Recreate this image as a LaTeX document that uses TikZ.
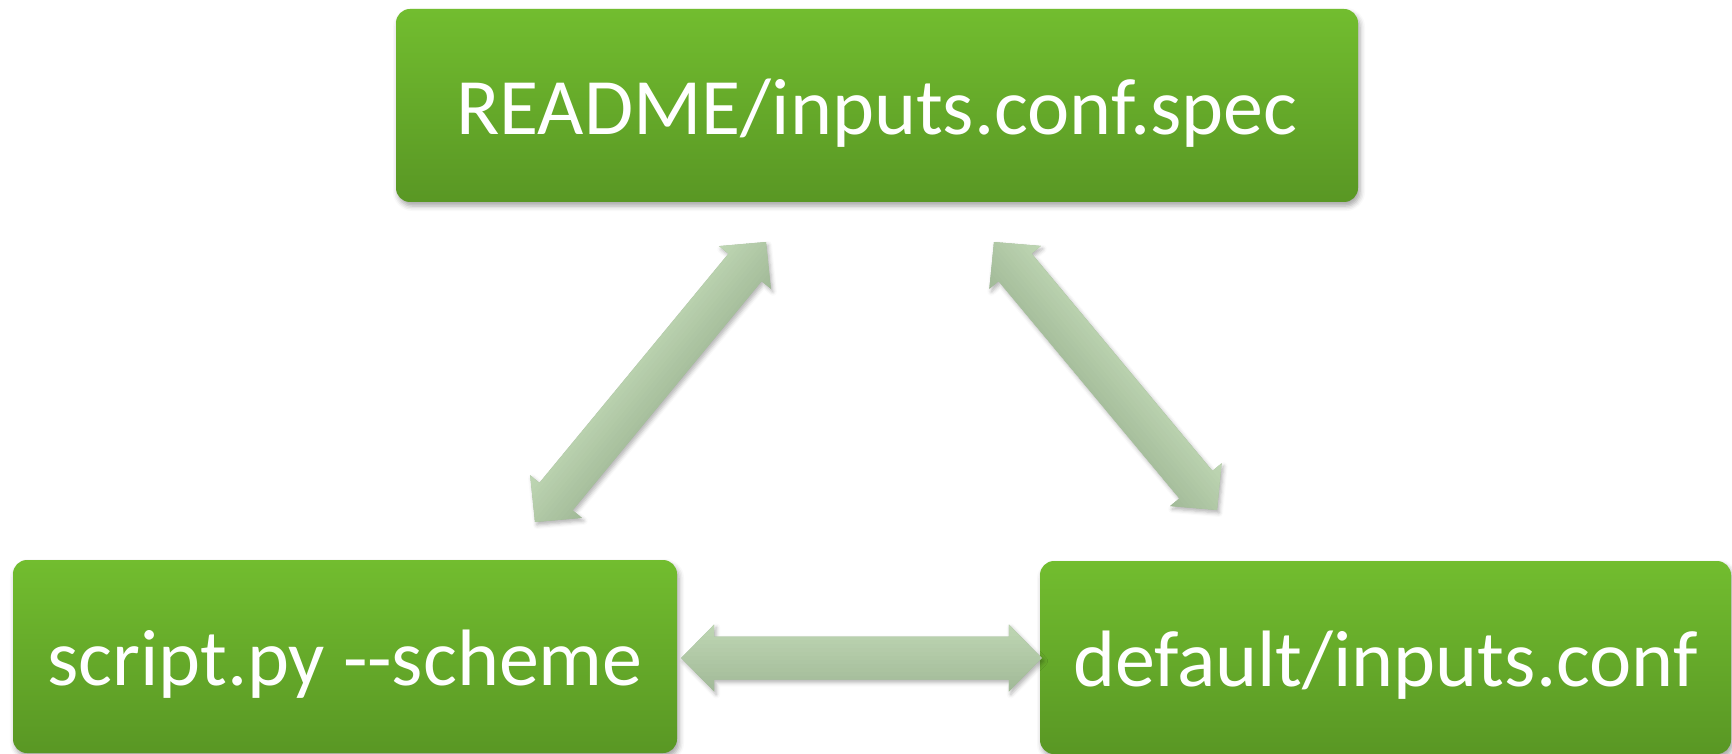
\documentclass[tikz,border=0pt]{standalone}
\usepackage{fontspec}
\newfontfamily\boxfont{Carlito}[Ligatures=TeXOff]
\usetikzlibrary{calc,shadows.blur}

\definecolor{boxtop}{RGB}{114,189,47}
\definecolor{boxbot}{RGB}{89,151,36}
\definecolor{arrlight}{RGB}{192,216,181}
\definecolor{arrdark}{RGB}{160,184,150}

\tikzset{
  filebox/.style={rectangle, rounded corners=14pt, top color=boxtop, bottom color=boxbot,
    text=white, font=\boxfont\fontsize{80}{96}\selectfont, inner sep=0pt,
    text height=58pt, text depth=0pt,
    blur shadow={shadow xshift=2pt, shadow yshift=-4pt, shadow blur radius=5pt, shadow opacity=35}},
  arrowshadow/.style={blur shadow={shadow xshift=2pt, shadow yshift=-3pt,
    shadow blur radius=4pt, shadow opacity=30}}
}

% outline of a double-headed block arrow between two tips
\newcommand\arrowoutline[2]{%
  (#1)
  -- ($(#1)!33pt!(#2)!33.5pt!90:(#2)$)
  -- ($(#1)!33pt!(#2)!21.5pt!90:(#2)$)
  -- ($(#2)!33pt!(#1)!21.5pt!-90:(#1)$)
  -- ($(#2)!33pt!(#1)!33.5pt!-90:(#1)$)
  -- (#2)
  -- ($(#2)!33pt!(#1)!33.5pt!90:(#1)$)
  -- ($(#2)!33pt!(#1)!21.5pt!90:(#1)$)
  -- ($(#1)!33pt!(#2)!21.5pt!-90:(#2)$)
  -- ($(#1)!33pt!(#2)!33.5pt!-90:(#2)$)
  -- cycle}

% block arrow with a gradient across its width (light on the left of #1 -> #2)
\newcommand\shadedarrow[2]{%
  \fill[arrdark, arrowshadow] \arrowoutline{#1}{#2};
  \begin{scope}
    \clip \arrowoutline{#1}{#2};
    \foreach \k in {0,...,18} {
      \pgfmathsetmacro\off{-36+4*\k}
      \pgfmathsetmacro\pct{100*\k/18}
      \draw[line width=4.6pt, arrlight!\pct!arrdark]
        ($(#1)!\off pt!90:(#2)$) -- ($(#2)!\off pt!-90:(#1)$);
    }
  \end{scope}
}

\begin{document}
\begin{tikzpicture}[x=1pt, y=-1pt]
  \useasboundingbox (0,0) rectangle (1732,754);

  \node[filebox, minimum width=962pt, minimum height=193pt] (spec) at (877,105.5)
    {README/inputs.conf.spec};
  \node[filebox, minimum width=664pt, minimum height=193pt] (script) at (345,656.5)
    {script.py --scheme};
  \node[filebox, minimum width=691pt, minimum height=193pt] (conf) at (1385.5,657.5)
    {default/inputs.conf};

  \coordinate (lt1) at (535,522);
  \coordinate (lt2) at (766,242);
  \coordinate (rt1) at (994,242);
  \coordinate (rt2) at (1217,510);
  \coordinate (ht1) at ($(script.east)+(4,1.5)$);
  \coordinate (ht2) at ($(conf.west)+(2,0.5)$);

  \shadedarrow{lt1}{lt2}
  \shadedarrow{rt1}{rt2}
  \shadedarrow{ht1}{ht2}
\end{tikzpicture}
\end{document}
